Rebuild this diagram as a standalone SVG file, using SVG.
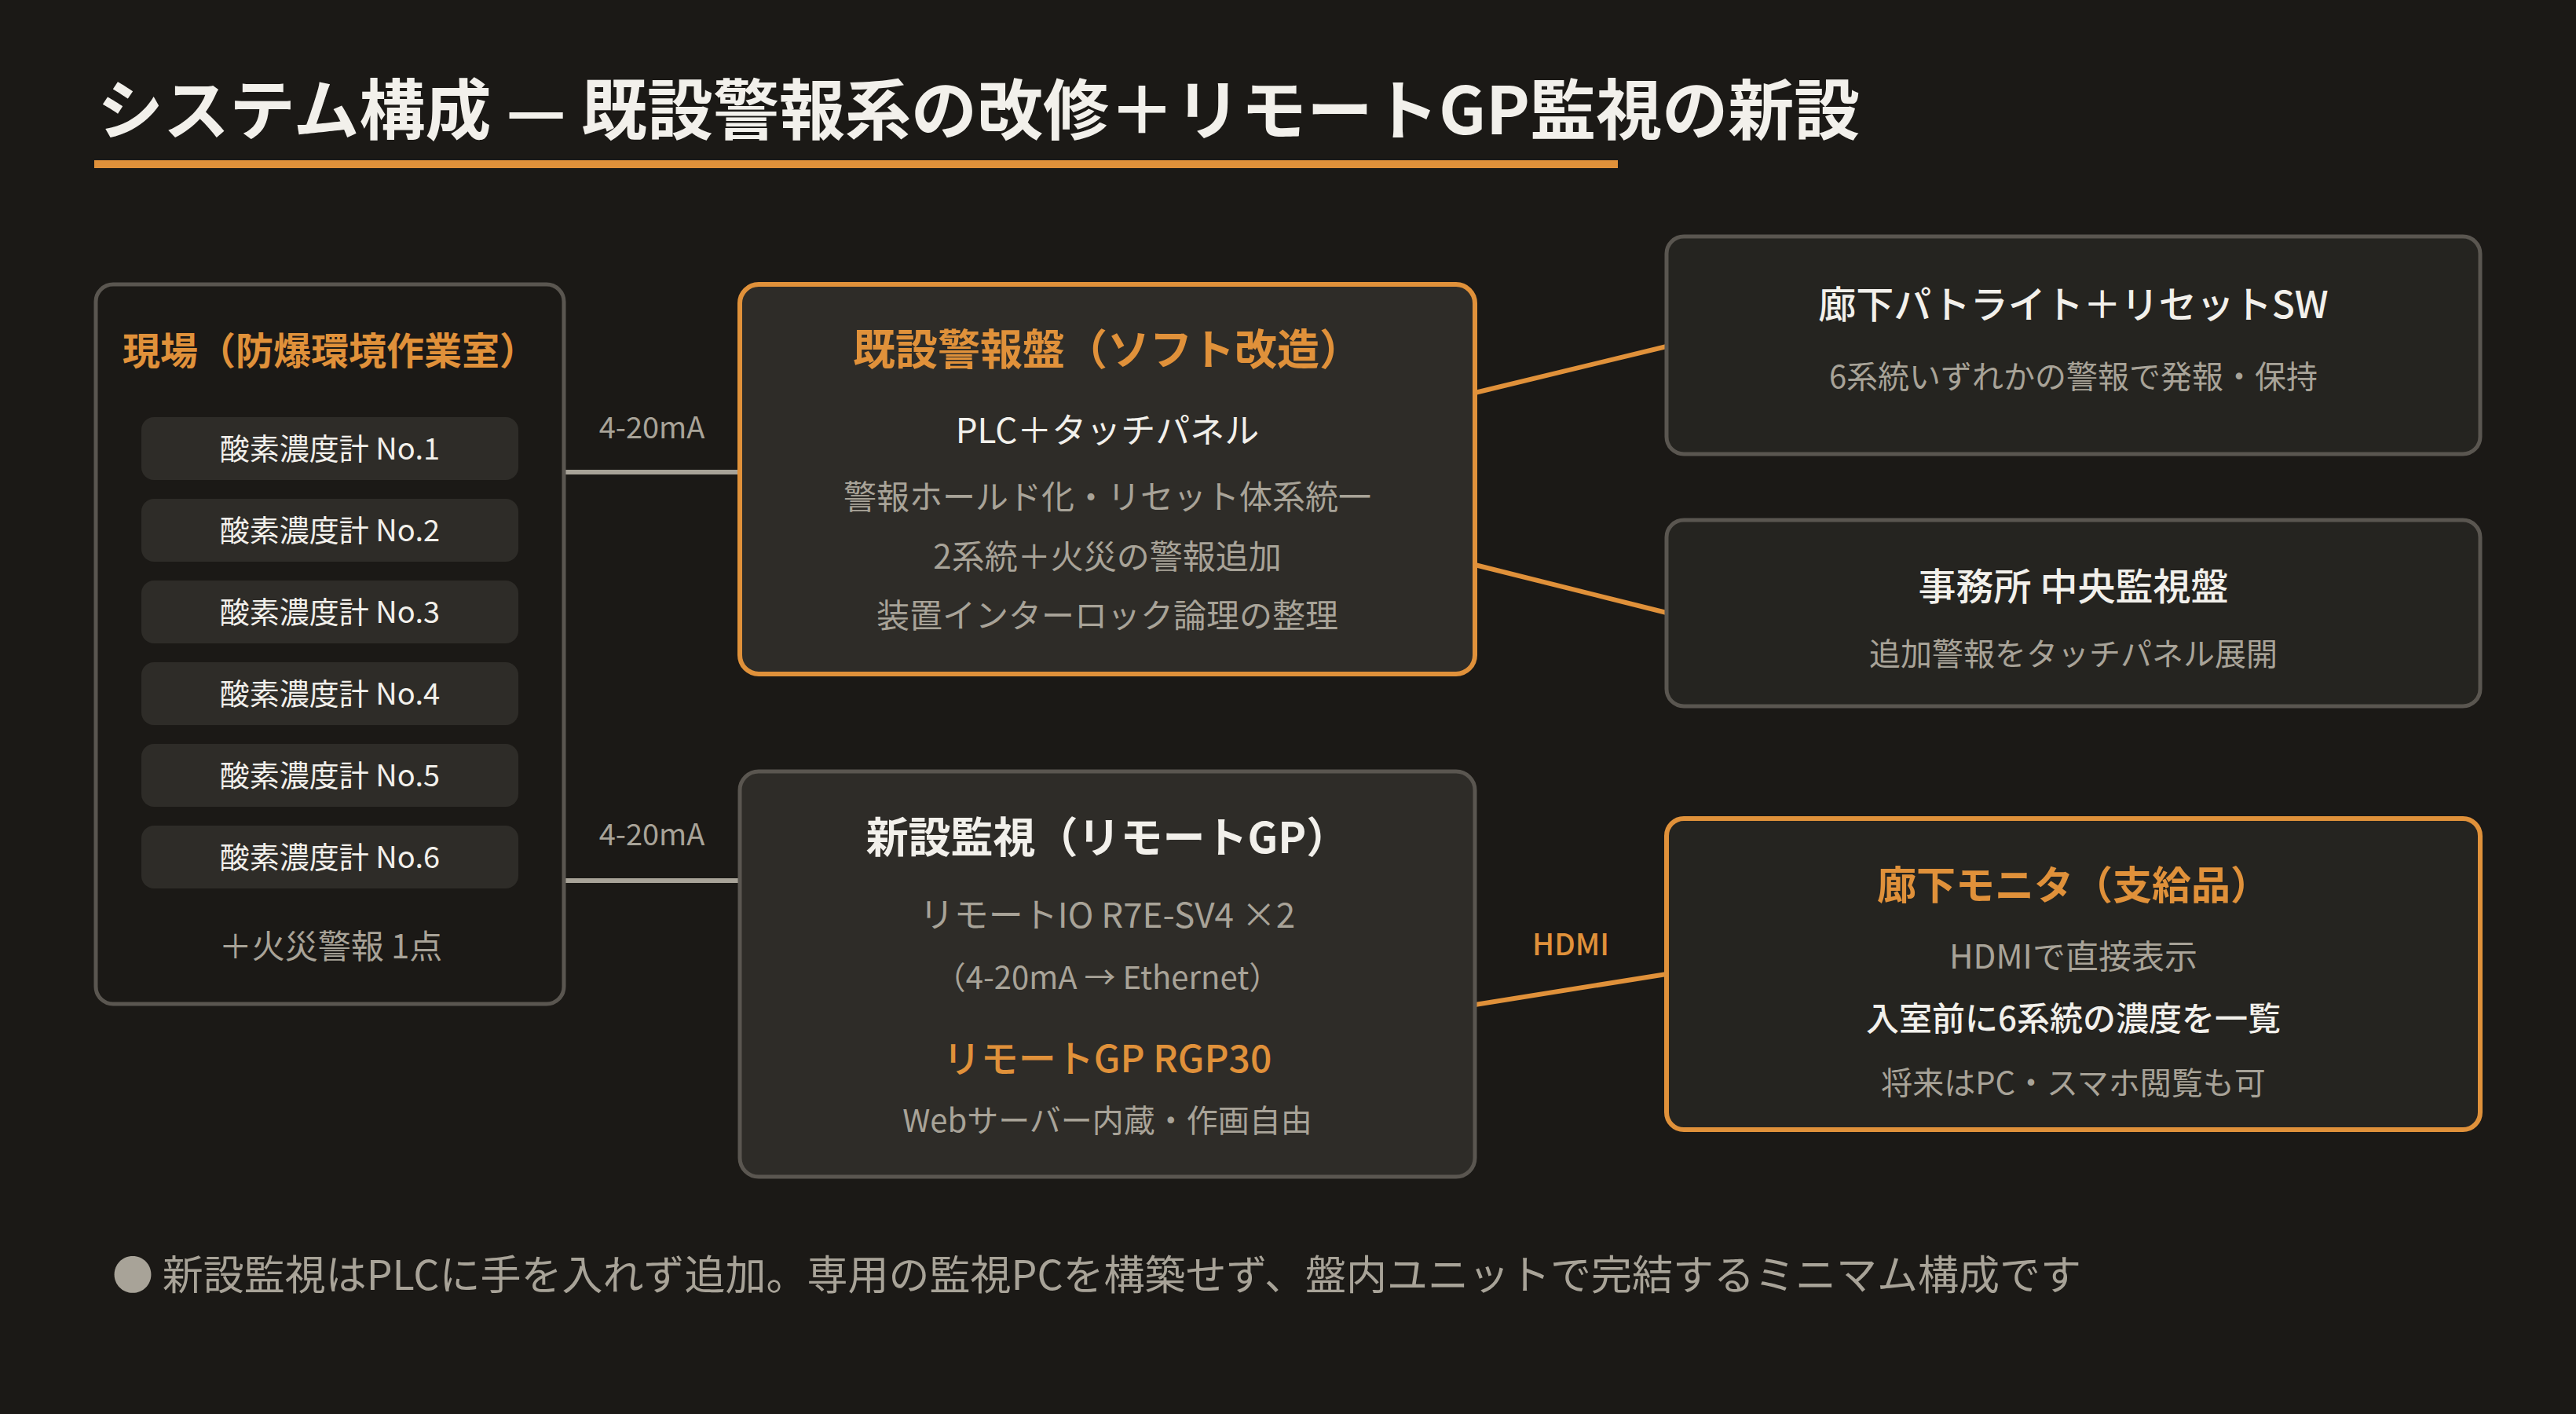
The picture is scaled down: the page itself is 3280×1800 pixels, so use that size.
<svg xmlns="http://www.w3.org/2000/svg" width="3280" height="1800" viewBox="0 0 3280 1800">
<style>
text{font-family:"Noto Sans CJK JP","Noto Sans",sans-serif;}
.c{text-anchor:middle;}
.h{font-weight:700;}
.m{font-weight:500;}
.or{fill:#e0913a;}
.wh{fill:#f2f0eb;}
.gy{fill:#a8a398;}
.boxO{fill:#2e2c28;stroke:#e0913a;stroke-width:6;}
.boxG{fill:#2e2c28;stroke:#5a5650;stroke-width:5;}
.boxR{fill:#252420;stroke:#5a5650;stroke-width:5;}
.boxRO{fill:#252420;stroke:#e0913a;stroke-width:6;}
.pill{fill:#2e2c28;}
.lg{stroke:#a8a398;stroke-width:6;fill:none;}
.lo{stroke:#e0913a;stroke-width:6;fill:none;}
</style>
<rect x="0" y="0" width="3280" height="1800" fill="#1b1916"/>
<g id="title">
<text x="124" y="171" font-size="84" class="h wh">システム構成 — 既設警報系の改修＋リモートGP監視の新設</text>
<rect x="120" y="204" width="1940" height="10" fill="#e0913a"/>
</g>
<g id="connectors">
<line class="lg" x1="720" y1="601" x2="942" y2="601"/>
<line class="lg" x1="720" y1="1121" x2="942" y2="1121"/>
<text x="830" y="558" font-size="38" class="c gy">4-20mA</text>
<text x="830" y="1076" font-size="38" class="c gy">4-20mA</text>
<line class="lo" x1="1878" y1="500" x2="2122" y2="441"/>
<line class="lo" x1="1878" y1="719" x2="2122" y2="780"/>
<line class="lo" x1="1878" y1="1279" x2="2122" y2="1240" stroke-width="8"/>
<text x="2000" y="1216" font-size="38" class="c m or">HDMI</text>
</g>
<g id="field">
<rect x="122" y="362" width="596" height="916" rx="22" fill="#1b1916" stroke="#5a5650" stroke-width="5"/>
<text x="420" y="464" font-size="48" class="c h or">現場（防爆環境作業室）</text>
<rect class="pill" x="180" y="531" width="480" height="80" rx="16"/>
<text x="420" y="585" font-size="38" class="c wh">酸素濃度計 No.1</text>
<rect class="pill" x="180" y="635" width="480" height="80" rx="16"/>
<text x="420" y="689" font-size="38" class="c wh">酸素濃度計 No.2</text>
<rect class="pill" x="180" y="739" width="480" height="80" rx="16"/>
<text x="420" y="793" font-size="38" class="c wh">酸素濃度計 No.3</text>
<rect class="pill" x="180" y="843" width="480" height="80" rx="16"/>
<text x="420" y="897" font-size="38" class="c wh">酸素濃度計 No.4</text>
<rect class="pill" x="180" y="947" width="480" height="80" rx="16"/>
<text x="420" y="1001" font-size="38" class="c wh">酸素濃度計 No.5</text>
<rect class="pill" x="180" y="1051" width="480" height="80" rx="16"/>
<text x="420" y="1105" font-size="38" class="c wh">酸素濃度計 No.6</text>
<text x="421" y="1220" font-size="42" class="c gy">＋火災警報 1点</text>
</g>
<g id="existing-panel">
<rect class="boxO" x="942" y="362" width="936" height="496" rx="24"/>
<text x="1410" y="465" font-size="54" class="c h or">既設警報盤（ソフト改造）</text>
<text x="1410" y="564" font-size="44" class="c wh">PLC＋タッチパネル</text>
<text x="1410" y="648" font-size="42" class="c gy">警報ホールド化・リセット体系統一</text>
<text x="1410" y="724" font-size="42" class="c gy">2系統＋火災の警報追加</text>
<text x="1410" y="799" font-size="42" class="c gy">装置インターロック論理の整理</text>
</g>
<g id="new-monitor">
<rect class="boxG" x="942" y="982" width="936" height="516" rx="24"/>
<text x="1410" y="1086" font-size="54" class="c h wh">新設監視（リモートGP）</text>
<text x="1410" y="1181" font-size="44" class="c gy">リモートIO R7E-SV4 ×2</text>
<text x="1410" y="1259" font-size="40" class="c gy">（4-20mA → Ethernet）</text>
<text x="1410" y="1365" font-size="48" class="c m or">リモートGP RGP30</text>
<text x="1410" y="1441" font-size="40" class="c gy">Webサーバー内蔵・作画自由</text>
</g>
<g id="patlite">
<rect class="boxR" x="2122" y="301" width="1036" height="277" rx="22"/>
<text x="2640" y="405" font-size="48" class="c m wh">廊下パトライト＋リセットSW</text>
<text x="2640" y="494" font-size="40" class="c gy">6系統いずれかの警報で発報・保持</text>
</g>
<g id="office">
<rect class="boxR" x="2122" y="662" width="1036" height="237" rx="22"/>
<text x="2640" y="764" font-size="48" class="c m wh">事務所 中央監視盤</text>
<text x="2640" y="847" font-size="40" class="c gy">追加警報をタッチパネル展開</text>
</g>
<g id="corridor-monitor">
<rect class="boxRO" x="2122" y="1042" width="1036" height="396" rx="22"/>
<text x="2640" y="1145" font-size="50" class="c h or">廊下モニタ（支給品）</text>
<text x="2640" y="1233" font-size="42" class="c gy">HDMIで直接表示</text>
<text x="2640" y="1312" font-size="42" class="c m wh">入室前に6系統の濃度を一覧</text>
<text x="2640" y="1393" font-size="40" class="c gy">将来はPC・スマホ閲覧も可</text>
</g>
<g id="footer">
<text x="143" y="1642" font-size="52" class="gy">● 新設監視はPLCに手を入れず追加。専用の監視PCを構築せず、盤内ユニットで完結するミニマム構成です</text>
</g>
</svg>
